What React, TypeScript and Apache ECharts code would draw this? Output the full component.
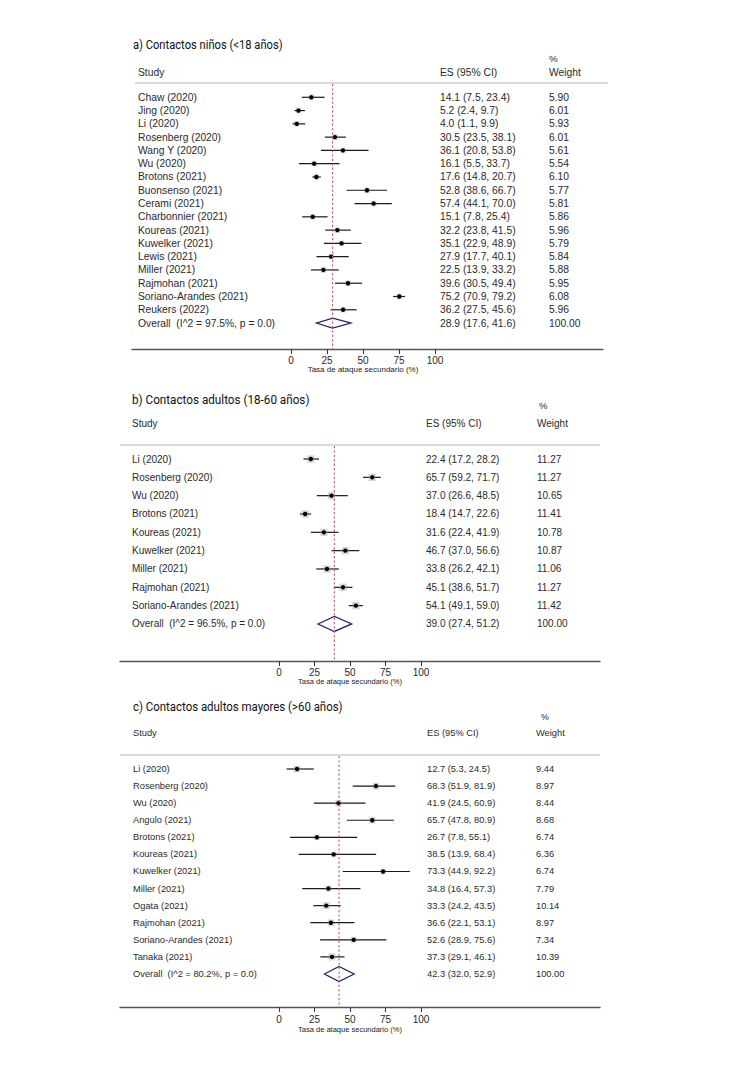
import React, { useEffect, useRef } from "react";
import * as echarts from "echarts";

// ---------- DATA ----------
const titles = [
  "a) Contactos niños (<18 años)",
  "b) Contactos adultos (18-60 años)",
  "c) Contactos adultos mayores (>60 años)",
];
const xTicks = [0, 25, 50, 75, 100];
const axisTitle = "Tasa de ataque secundario (%)";

const studiesA = [
  "Chaw (2020)", "Jing (2020)", "Li (2020)", "Rosenberg (2020)", "Wang Y (2020)", "Wu (2020)",
  "Brotons (2021)", "Buonsenso (2021)", "Cerami (2021)", "Charbonnier (2021)", "Koureas (2021)",
  "Kuwelker (2021)", "Lewis (2021)", "Miller (2021)", "Rajmohan (2021)", "Soriano-Arandes (2021)",
  "Reukers (2022)",
];
const esA = [14.1, 5.2, 4.0, 30.5, 36.1, 16.1, 17.6, 52.8, 57.4, 15.1, 32.2, 35.1, 27.9, 22.5, 39.6, 75.2, 36.2];
const loA = [7.5, 2.4, 1.1, 23.5, 20.8, 5.5, 14.8, 38.6, 44.1, 7.8, 23.8, 22.9, 17.7, 13.9, 30.5, 70.9, 27.5];
const hiA = [23.4, 9.7, 9.9, 38.1, 53.8, 33.7, 20.7, 66.7, 70.0, 25.4, 41.5, 48.9, 40.1, 33.2, 49.4, 79.2, 45.6];
const weightA = [5.90, 6.01, 5.93, 6.01, 5.61, 5.54, 6.10, 5.77, 5.81, 5.86, 5.96, 5.79, 5.84, 5.88, 5.95, 6.08, 5.96];
const overallLabelA = "Overall  (I^2 = 97.5%, p = 0.0)";
const pooledA = [28.9, 17.6, 41.6];

const studiesB = [
  "Li (2020)", "Rosenberg (2020)", "Wu (2020)", "Brotons (2021)", "Koureas (2021)",
  "Kuwelker (2021)", "Miller (2021)", "Rajmohan (2021)", "Soriano-Arandes (2021)",
];
const esB = [22.4, 65.7, 37.0, 18.4, 31.6, 46.7, 33.8, 45.1, 54.1];
const loB = [17.2, 59.2, 26.6, 14.7, 22.4, 37.0, 26.2, 38.6, 49.1];
const hiB = [28.2, 71.7, 48.5, 22.6, 41.9, 56.6, 42.1, 51.7, 59.0];
const weightB = [11.27, 11.27, 10.65, 11.41, 10.78, 10.87, 11.06, 11.27, 11.42];
const overallLabelB = "Overall  (I^2 = 96.5%, p = 0.0)";
const pooledB = [39.0, 27.4, 51.2];

const studiesC = [
  "Li (2020)", "Rosenberg (2020)", "Wu (2020)", "Angulo (2021)", "Brotons (2021)", "Koureas (2021)",
  "Kuwelker (2021)", "Miller (2021)", "Ogata (2021)", "Rajmohan (2021)", "Soriano-Arandes (2021)",
  "Tanaka (2021)",
];
const esC = [12.7, 68.3, 41.9, 65.7, 26.7, 38.5, 73.3, 34.8, 33.3, 36.6, 52.6, 37.3];
const loC = [5.3, 51.9, 24.5, 47.8, 7.8, 13.9, 44.9, 16.4, 24.2, 22.1, 28.9, 29.1];
const hiC = [24.5, 81.9, 60.9, 80.9, 55.1, 68.4, 92.2, 57.3, 43.5, 53.1, 75.6, 46.1];
const weightC = [9.44, 8.97, 8.44, 8.68, 6.74, 6.36, 6.74, 7.79, 10.14, 8.97, 7.34, 10.39];
const overallLabelC = "Overall  (I^2 = 80.2%, p = 0.0)";
const pooledC = [42.3, 32.0, 52.9];

// ---------- LAYOUT ----------
const FONT = "'Liberation Sans', Arimo, Arial, sans-serif";
const TITLE_FONT = "Roboto, 'Noto Sans', sans-serif";
const TEXT = "#2a2a2a";

const panels = [
  {
    title: titles[0], studies: studiesA, es: esA, lo: loA, hi: hiA, w: weightA, overall: overallLabelA, pooled: pooledA,
    titleX: 133, titleY: 45, titleScale: 0.86, pctX: 549, pctY: 58, headY: 72, studyX: 138, esX: 440, wX: 549,
    lineY: 83, lineX1: 135, lineX2: 608, axisL: 132, axisR: 603, axisY: 349, zeroPx: 291, hundredPx: 435,
    firstRowY: 97.3, rowStep: 13.28, fontSize: 10.3, tickFont: 10, tickMargin: 6, axisTitleFont: 8, axisTitleY: 369,
    diamondH: 5, boxK: 1.15,
  },
  {
    title: titles[1], studies: studiesB, es: esB, lo: loB, hi: hiB, w: weightB, overall: overallLabelB, pooled: pooledB,
    titleX: 132, titleY: 400, titleScale: 0.9, pctX: 539, pctY: 405, headY: 423, studyX: 132, esX: 426, wX: 537,
    lineY: 445, lineX1: 120, lineX2: 600, axisL: 120, axisR: 600, axisY: 661, zeroPx: 279, hundredPx: 421,
    firstRowY: 459, rowStep: 18.33, fontSize: 10, tickFont: 10, tickMargin: 6, axisTitleFont: 7.5, axisTitleY: 681,
    diamondH: 7.5, boxK: 1.1,
  },
  {
    title: titles[2], studies: studiesC, es: esC, lo: loC, hi: hiC, w: weightC, overall: overallLabelC, pooled: pooledC,
    titleX: 133, titleY: 707, titleScale: 0.88, pctX: 541, pctY: 717, headY: 733, studyX: 133, esX: 427, wX: 536,
    lineY: 755, lineX1: 120, lineX2: 600, axisL: 120, axisR: 600, axisY: 1007, zeroPx: 279, hundredPx: 421,
    firstRowY: 769, rowStep: 17.08, fontSize: 9.3, tickFont: 10, tickMargin: 7, axisTitleFont: 7.5, axisTitleY: 1029,
    diamondH: 7.5, boxK: 1.1,
  },
];

function fmt(es: number, lo: number, hi: number) {
  return `${es.toFixed(1)} (${lo.toFixed(1)}, ${hi.toFixed(1)})`;
}

function buildOption() {
  const grid: any[] = [];
  const xAxis: any[] = [];
  const yAxis: any[] = [];
  const series: any[] = [];
  const graphic: any[] = [];

  panels.forEach((p, i) => {
    const top = p.lineY + 1;
    const height = p.axisY - top;
    const width = p.axisR - p.axisL;
    const pxPerUnit = (p.hundredPx - p.zeroPx) / 100;
    const xMin = (p.axisL - p.zeroPx) / pxPerUnit;
    const xMax = (p.axisR - p.zeroPx) / pxPerUnit;
    const yMin = -(p.firstRowY - top) / p.rowStep;
    const yMax = (p.axisY - p.firstRowY) / p.rowStep;
    const n = p.studies.length;

    grid.push({ left: p.axisL, top, width, height, containLabel: false });
    xAxis.push({
      type: "value", gridIndex: i, min: xMin, max: xMax, position: "bottom",
      axisLine: { show: true, onZero: false, lineStyle: { color: "#555", width: 1.4 } },
      axisTick: { show: true, customValues: xTicks, length: 5, lineStyle: { color: "#333", width: 1 } },
      axisLabel: { customValues: xTicks, margin: p.tickMargin, fontSize: p.tickFont, color: TEXT, fontFamily: FONT },
      splitLine: { show: false },
    });
    yAxis.push({ type: "value", gridIndex: i, inverse: true, min: yMin, max: yMax, show: false });

    // study rows
    const rows = p.studies.map((_, k) => [p.es[k], p.lo[k], p.hi[k], k, p.w[k]]);
    series.push({
      type: "custom", xAxisIndex: i, yAxisIndex: i, silent: true, z: 3,
      encode: { x: [0, 1, 2], y: 3 },
      data: rows,
      renderItem: (params: any, api: any) => {
        const y = api.value(3);
        const a = api.coord([api.value(1), y]);
        const b = api.coord([api.value(2), y]);
        const c = api.coord([api.value(0), y]);
        const half = Math.sqrt(api.value(4)) * p.boxK;
        return {
          type: "group",
          children: [
            { type: "line", shape: { x1: a[0], y1: a[1], x2: b[0], y2: b[1] }, style: { stroke: "#1a1a1a", lineWidth: 1.2 } },
            { type: "rect", shape: { x: c[0] - half, y: c[1] - half, width: half * 2, height: half * 2 }, style: { fill: "#9a9a9a", opacity: 0.4 } },
            { type: "circle", shape: { cx: c[0], cy: c[1], r: 2.2 }, style: { fill: "#000" } },
          ],
        };
      },
    });

    // pooled diamond
    series.push({
      type: "custom", xAxisIndex: i, yAxisIndex: i, silent: true, z: 3,
      encode: { x: [0, 1, 2], y: 3 },
      data: [[p.pooled[0], p.pooled[1], p.pooled[2], n]],
      renderItem: (params: any, api: any) => {
        const y = api.value(3);
        const a = api.coord([api.value(1), y]);
        const b = api.coord([api.value(2), y]);
        const c = api.coord([api.value(0), y]);
        const h = p.diamondH;
        return {
          type: "polygon",
          shape: { points: [[a[0], a[1]], [c[0], c[1] - h], [b[0], b[1]], [c[0], c[1] + h]] },
          style: { fill: "none", stroke: "#25256a", lineWidth: 1.3 },
        };
      },
    });

    // reference dashed line at pooled estimate
    series.push({
      type: "line", xAxisIndex: i, yAxisIndex: i, silent: true, z: 4,
      symbol: "none",
      data: [[p.pooled[0], yMin], [p.pooled[0], yMax]],
      lineStyle: { color: "#b05a72", width: 1.1, type: [2.2, 2.2] },
    });

    // text columns
    const names = [...p.studies, p.overall];
    const esTexts = [...p.studies.map((_, k) => fmt(p.es[k], p.lo[k], p.hi[k])), fmt(p.pooled[0], p.pooled[1], p.pooled[2])];
    const wTexts = [...p.w.map((v) => v.toFixed(2)), (100).toFixed(2)];
    series.push({
      type: "custom", xAxisIndex: i, yAxisIndex: i, silent: true, z: 5,
      encode: { x: 0, y: 1 },
      data: names.map((_, k) => [0, k]),
      renderItem: (params: any, api: any) => {
        const k = params.dataIndex;
        const y = api.coord([0, api.value(1)])[1];
        const x0 = params.coordSys.x;
        const st = (text: string) => ({ text, fill: TEXT, fontSize: p.fontSize, fontFamily: FONT, align: "left", verticalAlign: "middle" });
        return {
          type: "group",
          children: [
            { type: "text", x: x0 + (p.studyX - p.axisL), y, style: st(names[k]) },
            { type: "text", x: x0 + (p.esX - p.axisL), y, style: st(esTexts[k]) },
            { type: "text", x: x0 + (p.wX - p.axisL), y, style: st(wTexts[k]) },
          ],
        };
      },
    });

    // headers, title, header line, axis title
    const hs = (text: string, size = p.fontSize) => ({ text, fill: TEXT, fontSize: size, fontFamily: FONT, align: "left", verticalAlign: "middle" });
    graphic.push(
      { type: "text", x: p.titleX, y: p.titleY, scaleX: p.titleScale, style: { text: p.title, fill: "#111", fontSize: 13, fontFamily: TITLE_FONT, fontWeight: "normal", align: "left", verticalAlign: "middle" } },
      { type: "text", x: p.pctX, y: p.pctY, style: hs("%", p.fontSize - 0.5) },
      { type: "text", x: p.studyX, y: p.headY, style: hs("Study") },
      { type: "text", x: p.esX, y: p.headY, style: hs("ES (95% CI)") },
      { type: "text", x: p.wX, y: p.headY, style: hs("Weight") },
      { type: "line", shape: { x1: p.lineX1, y1: p.lineY, x2: p.lineX2, y2: p.lineY }, style: { stroke: "#cfcfcf", lineWidth: 1.5 } },
      { type: "text", x: (p.zeroPx + p.hundredPx) / 2, y: p.axisTitleY, style: { text: axisTitle, fill: "#222", fontSize: p.axisTitleFont, fontFamily: FONT, align: "center", verticalAlign: "middle" } },
    );
  });

  return {
    animation: false,
    backgroundColor: "#ffffff",
    grid, xAxis, yAxis, series, graphic,
  };
}

export default function App() {
  const ref = useRef<HTMLDivElement>(null);
  useEffect(() => {
    document.body.style.margin = "0";
    if (!ref.current) return;
    const chart = echarts.init(ref.current, null, { renderer: "svg" });
    chart.setOption(buildOption() as any);
    return () => chart.dispose();
  }, []);
  return <div ref={ref} style={{ width: 755, height: 1078 }} />;
}
